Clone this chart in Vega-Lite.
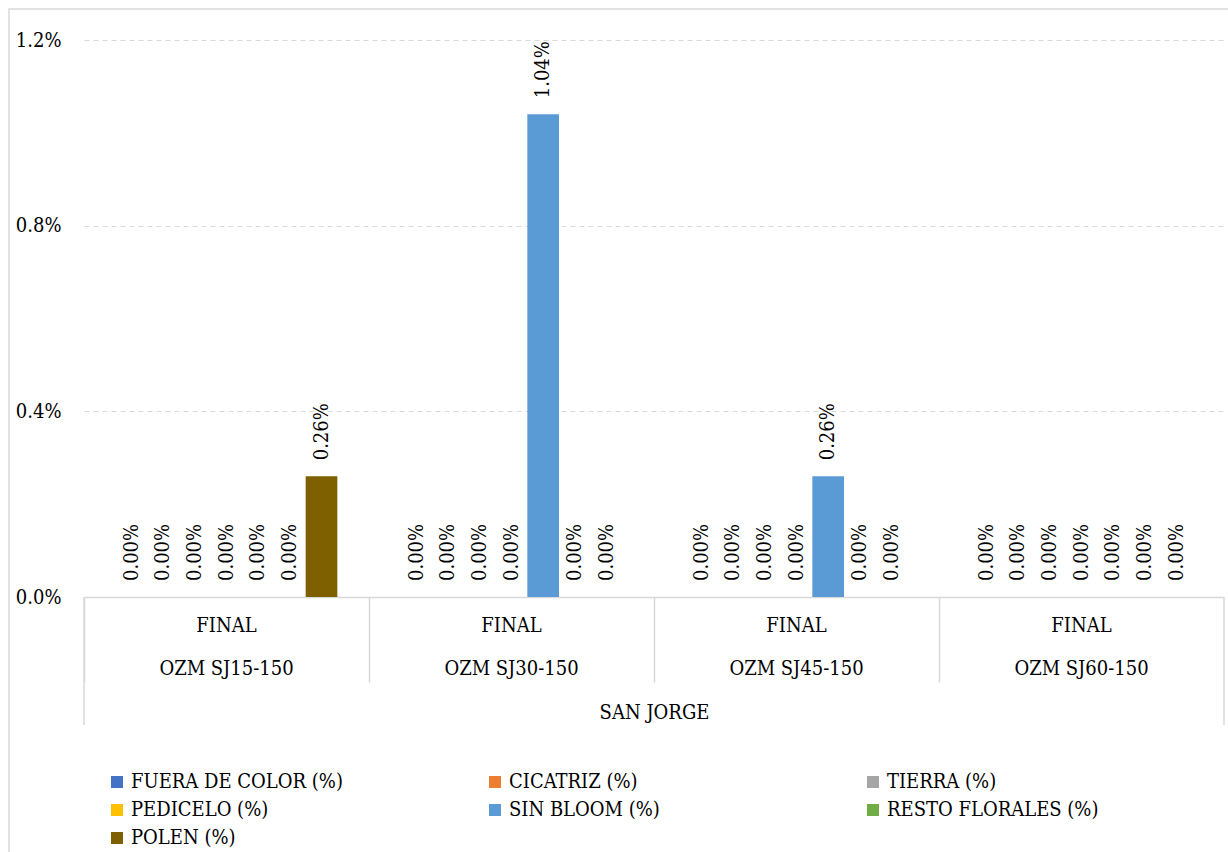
{
  "$schema": "https://vega.github.io/schema/vega-lite/v6.json",
  "width": 1224,
  "height": 848,
  "autosize": {"type": "none"},
  "padding": {"left": 9, "top": 9, "right": 0, "bottom": 0},
  "background": "white",
  "config": {
    "font": "DejaVu Serif Condensed, DejaVu Serif",
    "view": {"stroke": "#D9D9D9", "strokeWidth": 1.5}
  },
  "data": {
    "values": [
      {"prueba": "OZM SJ15-150", "defecto": "FUERA DE COLOR (%)", "valor": 0},
      {"prueba": "OZM SJ15-150", "defecto": "CICATRIZ (%)", "valor": 0},
      {"prueba": "OZM SJ15-150", "defecto": "TIERRA (%)", "valor": 0},
      {"prueba": "OZM SJ15-150", "defecto": "PEDICELO (%)", "valor": 0},
      {"prueba": "OZM SJ15-150", "defecto": "SIN BLOOM (%)", "valor": 0},
      {"prueba": "OZM SJ15-150", "defecto": "RESTO FLORALES (%)", "valor": 0},
      {"prueba": "OZM SJ15-150", "defecto": "POLEN (%)", "valor": 0.0026},
      {"prueba": "OZM SJ30-150", "defecto": "FUERA DE COLOR (%)", "valor": 0},
      {"prueba": "OZM SJ30-150", "defecto": "CICATRIZ (%)", "valor": 0},
      {"prueba": "OZM SJ30-150", "defecto": "TIERRA (%)", "valor": 0},
      {"prueba": "OZM SJ30-150", "defecto": "PEDICELO (%)", "valor": 0},
      {"prueba": "OZM SJ30-150", "defecto": "SIN BLOOM (%)", "valor": 0.0104},
      {"prueba": "OZM SJ30-150", "defecto": "RESTO FLORALES (%)", "valor": 0},
      {"prueba": "OZM SJ30-150", "defecto": "POLEN (%)", "valor": 0},
      {"prueba": "OZM SJ45-150", "defecto": "FUERA DE COLOR (%)", "valor": 0},
      {"prueba": "OZM SJ45-150", "defecto": "CICATRIZ (%)", "valor": 0},
      {"prueba": "OZM SJ45-150", "defecto": "TIERRA (%)", "valor": 0},
      {"prueba": "OZM SJ45-150", "defecto": "PEDICELO (%)", "valor": 0},
      {"prueba": "OZM SJ45-150", "defecto": "SIN BLOOM (%)", "valor": 0.0026},
      {"prueba": "OZM SJ45-150", "defecto": "RESTO FLORALES (%)", "valor": 0},
      {"prueba": "OZM SJ45-150", "defecto": "POLEN (%)", "valor": 0},
      {"prueba": "OZM SJ60-150", "defecto": "FUERA DE COLOR (%)", "valor": 0},
      {"prueba": "OZM SJ60-150", "defecto": "CICATRIZ (%)", "valor": 0},
      {"prueba": "OZM SJ60-150", "defecto": "TIERRA (%)", "valor": 0},
      {"prueba": "OZM SJ60-150", "defecto": "PEDICELO (%)", "valor": 0},
      {"prueba": "OZM SJ60-150", "defecto": "SIN BLOOM (%)", "valor": 0},
      {"prueba": "OZM SJ60-150", "defecto": "RESTO FLORALES (%)", "valor": 0},
      {"prueba": "OZM SJ60-150", "defecto": "POLEN (%)", "valor": 0}
    ]
  },
  "layer": [
    {
      "mark": {"type": "bar"},
      "encoding": {
        "x": {
          "field": "prueba",
          "type": "nominal",
          "sort": null,
          "scale": {"range": [75, 1215], "paddingInner": 0, "paddingOuter": 0},
          "axis": {
            "title": "SAN JORGE",
            "orient": "bottom",
            "offset": -260,
            "grid": false,
            "domainColor": "#D9D9D9",
            "domainWidth": 1.5,
            "ticks": true,
            "bandPosition": 0,
            "tickSize": 85,
            "tickColor": "#D9D9D9",
            "tickWidth": 1.5,
            "labelExpr": "['FINAL', datum.label]",
            "labelAngle": 0,
            "labelFontSize": 20,
            "labelColor": "#000000",
            "labelLineHeight": 43,
            "labelBaseline": "top",
            "labelPadding": -67,
            "labelLimit": 400,
            "titleFontSize": 20,
            "titleFontWeight": "normal",
            "titleColor": "#000000",
            "titleY": 121,
            "titleBaseline": "alphabetic"
          }
        },
        "xOffset": {
          "field": "defecto",
          "type": "nominal",
          "sort": ["FUERA DE COLOR (%)", "CICATRIZ (%)", "TIERRA (%)", "PEDICELO (%)", "SIN BLOOM (%)", "RESTO FLORALES (%)", "POLEN (%)"],
          "scale": {"paddingInner": 0, "paddingOuter": 1.05}
        },
        "y": {
          "field": "valor",
          "type": "quantitative",
          "scale": {"domain": [0, 0.012], "range": [588, 31], "nice": false},
          "axis": {
            "title": null,
            "orient": "left",
            "offset": -52,
            "domain": false,
            "ticks": false,
            "values": [0, 0.004, 0.008, 0.012],
            "format": ".1%",
            "labelFontSize": 20,
            "labelColor": "#000000",
            "labelPadding": 0,
            "grid": true,
            "gridColor": "#D9D9D9",
            "gridDash": [5, 4],
            "gridWidth": 1
          }
        },
        "color": {
          "field": "defecto",
          "type": "nominal",
          "scale": {
            "domain": ["FUERA DE COLOR (%)", "CICATRIZ (%)", "TIERRA (%)", "PEDICELO (%)", "SIN BLOOM (%)", "RESTO FLORALES (%)", "POLEN (%)"],
            "range": ["#4472C4", "#ED7D31", "#A5A5A5", "#FFC000", "#5B9BD5", "#70AD47", "#7F6000"]
          },
          "legend": {
            "title": null,
            "orient": "none",
            "legendX": 98,
            "legendY": 763,
            "columns": 3,
            "direction": "horizontal",
            "gridAlign": "all",
            "columnPadding": 142,
            "rowPadding": 8,
            "padding": 0,
            "symbolType": "square",
            "symbolSize": 144,
            "symbolStrokeWidth": 0,
            "labelFontSize": 20,
            "labelColor": "#000000",
            "labelOffset": 4,
            "labelLimit": 400
          }
        }
      }
    },
    {
      "mark": {"type": "text", "angle": 270, "align": "left", "baseline": "middle", "dx": 16, "fontSize": 20, "color": "#000000"},
      "encoding": {
        "x": {"field": "prueba", "type": "nominal", "sort": null},
        "xOffset": {
          "field": "defecto",
          "type": "nominal",
          "sort": ["FUERA DE COLOR (%)", "CICATRIZ (%)", "TIERRA (%)", "PEDICELO (%)", "SIN BLOOM (%)", "RESTO FLORALES (%)", "POLEN (%)"]
        },
        "y": {"field": "valor", "type": "quantitative"},
        "text": {"field": "valor", "type": "quantitative", "format": ".2%"}
      }
    },
    {
      "transform": [{"filter": "datum.defecto === 'POLEN (%)' && datum.prueba === 'OZM SJ15-150'"}],
      "mark": {"type": "rule", "color": "#D9D9D9", "strokeWidth": 1.5},
      "encoding": {
        "x": {"field": "prueba", "type": "nominal", "sort": null, "bandPosition": 0},
        "y": {"datum": 0},
        "y2": {"datum": -0.00276}
      }
    },
    {
      "transform": [{"filter": "datum.defecto === 'POLEN (%)' && datum.prueba === 'OZM SJ60-150'"}],
      "mark": {"type": "rule", "color": "#D9D9D9", "strokeWidth": 1.5},
      "encoding": {
        "x": {"field": "prueba", "type": "nominal", "sort": null, "bandPosition": 1},
        "y": {"datum": 0},
        "y2": {"datum": -0.00276}
      }
    }
  ]
}
